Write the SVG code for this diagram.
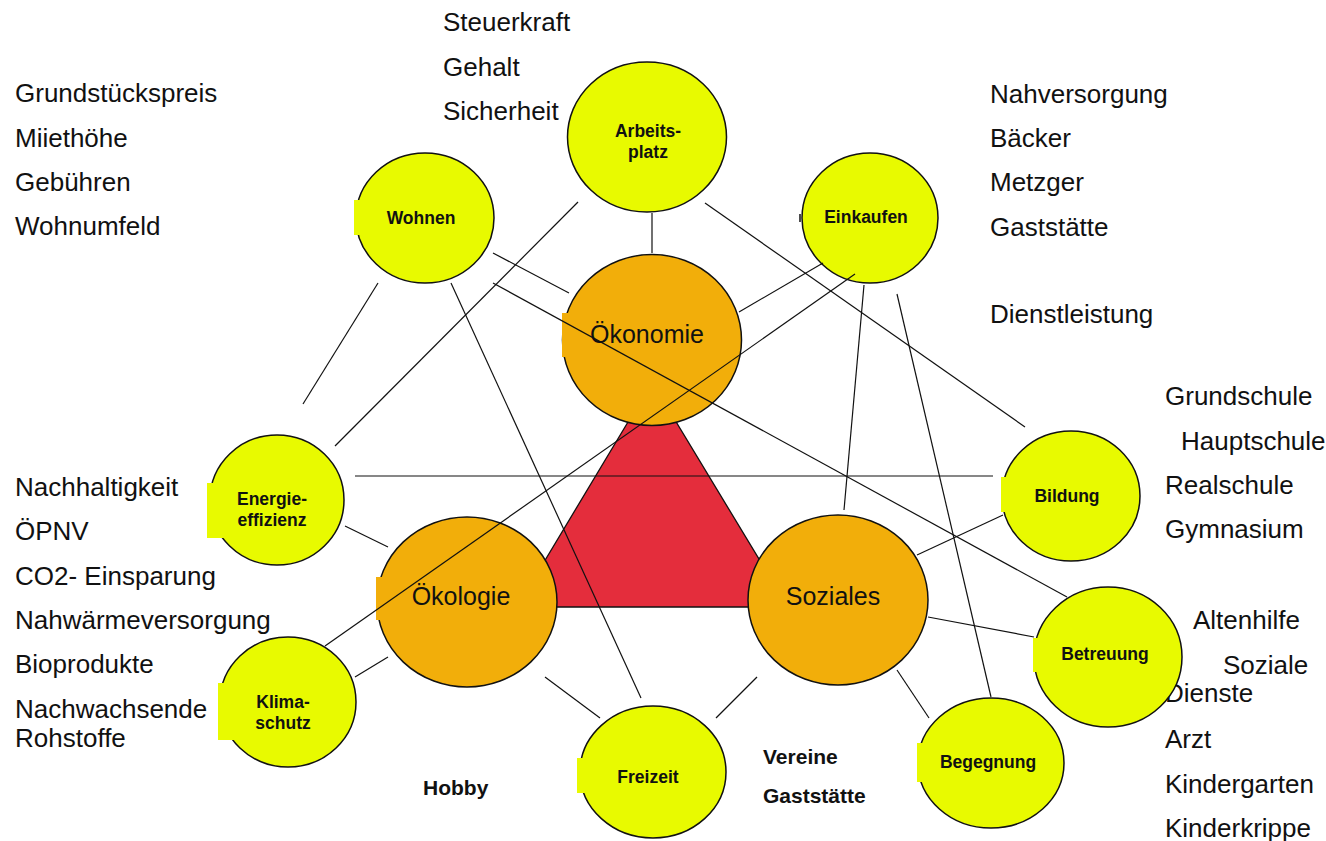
<svg xmlns="http://www.w3.org/2000/svg" width="1326" height="841" viewBox="0 0 1326 841">
<style>
.side{font-family:"Liberation Sans",Arial,sans-serif;font-size:26px;fill:#111}
.sideb{font-family:"Liberation Sans",Arial,sans-serif;font-size:21px;font-weight:bold;fill:#111}
.sm{fill:#e8fa00;stroke:#111;stroke-width:1.5}
.smf{fill:#e8fa00}
.big{fill:#f2ae0a;stroke:#111;stroke-width:1.5}
.bigf{fill:#f2ae0a}
.lb{font-family:"Liberation Sans",Arial,sans-serif;font-size:17.5px;font-weight:bold;fill:#111;text-anchor:middle}
.lg{font-family:"Liberation Sans",Arial,sans-serif;font-size:25px;fill:#111;text-anchor:middle}
.cn line{stroke:#111;stroke-width:1.2}
</style>
<rect width="1326" height="841" fill="#fff"/>
<g id="texts">
<text class="side" x="443" y="31">Steuerkraft</text>
<text class="side" x="443" y="76">Gehalt</text>
<text class="side" x="443" y="120">Sicherheit</text>
<text class="side" x="15" y="102">Grundstückspreis</text>
<text class="side" x="15" y="147">Miiethöhe</text>
<text class="side" x="15" y="191">Gebühren</text>
<text class="side" x="15" y="235">Wohnumfeld</text>
<text class="side" x="990" y="103">Nahversorgung</text>
<text class="side" x="990" y="147">Bäcker</text>
<text class="side" x="990" y="191">Metzger</text>
<text class="side" x="990" y="236">Gaststätte</text>
<text class="side" x="990" y="323">Dienstleistung</text>
<text class="side" x="1165" y="405">Grundschule</text>
<text class="side" x="1181" y="450">Hauptschule</text>
<text class="side" x="1165" y="494">Realschule</text>
<text class="side" x="1165" y="538">Gymnasium</text>
<text class="side" x="1193" y="629">Altenhilfe</text>
<text class="side" x="1223" y="674">Soziale</text>
<text class="side" x="1165" y="702">Dienste</text>
<text class="side" x="1165" y="748">Arzt</text>
<text class="side" x="1165" y="793">Kindergarten</text>
<text class="side" x="1165" y="837">Kinderkrippe</text>
<text class="side" x="15" y="496">Nachhaltigkeit</text>
<text class="side" x="15" y="540">ÖPNV</text>
<text class="side" x="15" y="585">CO2- Einsparung</text>
<text class="side" x="15" y="629">Nahwärmeversorgung</text>
<text class="side" x="15" y="673">Bioprodukte</text>
<text class="side" x="15" y="718">Nachwachsende</text>
<text class="side" x="15" y="747">Rohstoffe</text>
<text class="sideb" x="423" y="795">Hobby</text>
<text class="sideb" x="763" y="764">Vereine</text>
<text class="sideb" x="763" y="803">Gaststätte</text>
</g>
<g id="triangle">
<polygon points="652,382 517,607 788,607" fill="#e42d3c" stroke="#111" stroke-width="1.3"/>
</g>
<g id="arbeitsplatz">
<ellipse class="sm" cx="647" cy="137" rx="79.5" ry="75"/>
<text class="lb" x="648" y="137">Arbeits-</text>
<text class="lb" x="648" y="158">platz</text>
</g>
<g id="wohnen">
<ellipse class="sm" cx="425" cy="218" rx="69" ry="65"/>
<rect class="smf" x="354" y="200" width="70" height="35"/>
<text class="lb" x="421" y="224">Wohnen</text>
</g>
<g id="einkaufen">
<ellipse class="sm" cx="870" cy="218" rx="68" ry="65"/>
<line x1="800" y1="214" x2="800" y2="222" stroke="#111" stroke-width="1.5"/>
<text class="lb" x="866" y="223">Einkaufen</text>
</g>
<g id="oekonomie">
<ellipse class="big" cx="652" cy="340" rx="89.5" ry="85.5"/>
<rect class="bigf" x="562" y="313" width="90" height="44"/>
<text class="lg" x="647" y="343">Ökonomie</text>
</g>
<g id="energieeffizienz">
<ellipse class="sm" cx="277" cy="500" rx="67" ry="65"/>
<rect class="smf" x="207" y="483" width="70" height="55"/>
<text class="lb" x="272" y="505">Energie-</text>
<text class="lb" x="272" y="526">effizienz</text>
</g>
<g id="oekologie">
<ellipse class="big" cx="467" cy="602" rx="90" ry="85"/>
<rect class="bigf" x="376" y="577" width="90" height="43"/>
<text class="lg" x="461" y="605">Ökologie</text>
</g>
<g id="soziales">
<ellipse class="big" cx="838" cy="600" rx="90" ry="85"/>
<text class="lg" x="833" y="605">Soziales</text>
</g>
<g id="klimaschutz">
<ellipse class="sm" cx="288" cy="702" rx="68" ry="65"/>
<rect class="smf" x="218" y="683" width="70" height="57"/>
<text class="lb" x="283" y="708">Klima-</text>
<text class="lb" x="283" y="729">schutz</text>
</g>
<g id="freizeit">
<ellipse class="sm" cx="653" cy="772" rx="73" ry="66"/>
<rect class="smf" x="577" y="758" width="75" height="35"/>
<text class="lb" x="648" y="783">Freizeit</text>
</g>
<g id="begegnung">
<ellipse class="sm" cx="991" cy="763" rx="73" ry="65"/>
<rect class="smf" x="917" y="743" width="74" height="39"/>
<text class="lb" x="988" y="768">Begegnung</text>
</g>
<g id="betreuung">
<ellipse class="sm" cx="1108" cy="657" rx="74" ry="70"/>
<rect class="smf" x="1033" y="638" width="75" height="34"/>
<text class="lb" x="1105" y="660">Betreuung</text>
</g>
<g id="bildung">
<ellipse class="sm" cx="1071" cy="496" rx="69" ry="65"/>
<rect class="smf" x="1001" y="477" width="70" height="35"/>
<text class="lb" x="1067" y="502">Bildung</text>
</g>
<g id="connectors" class="cn">
<line x1="652" y1="213" x2="652" y2="253"/>
<line x1="493" y1="253" x2="569" y2="293"/>
<line x1="493" y1="283" x2="1067" y2="597"/>
<line x1="578" y1="202" x2="335" y2="446"/>
<line x1="378" y1="283" x2="303" y2="404"/>
<line x1="451" y1="283" x2="641" y2="698"/>
<line x1="705" y1="203" x2="1025" y2="427"/>
<line x1="823" y1="263" x2="739" y2="312"/>
<line x1="855" y1="274" x2="325" y2="646"/>
<line x1="864" y1="285" x2="844" y2="510"/>
<line x1="897" y1="294" x2="991" y2="697"/>
<line x1="355" y1="476" x2="993" y2="476"/>
<line x1="345" y1="526" x2="388" y2="547"/>
<line x1="355" y1="677" x2="388" y2="657"/>
<line x1="545" y1="677" x2="600" y2="718"/>
<line x1="757" y1="677" x2="716" y2="718"/>
<line x1="917" y1="555" x2="1003" y2="515"/>
<line x1="928" y1="617" x2="1034" y2="637"/>
<line x1="897" y1="670" x2="929" y2="718"/>
</g>
</svg>
